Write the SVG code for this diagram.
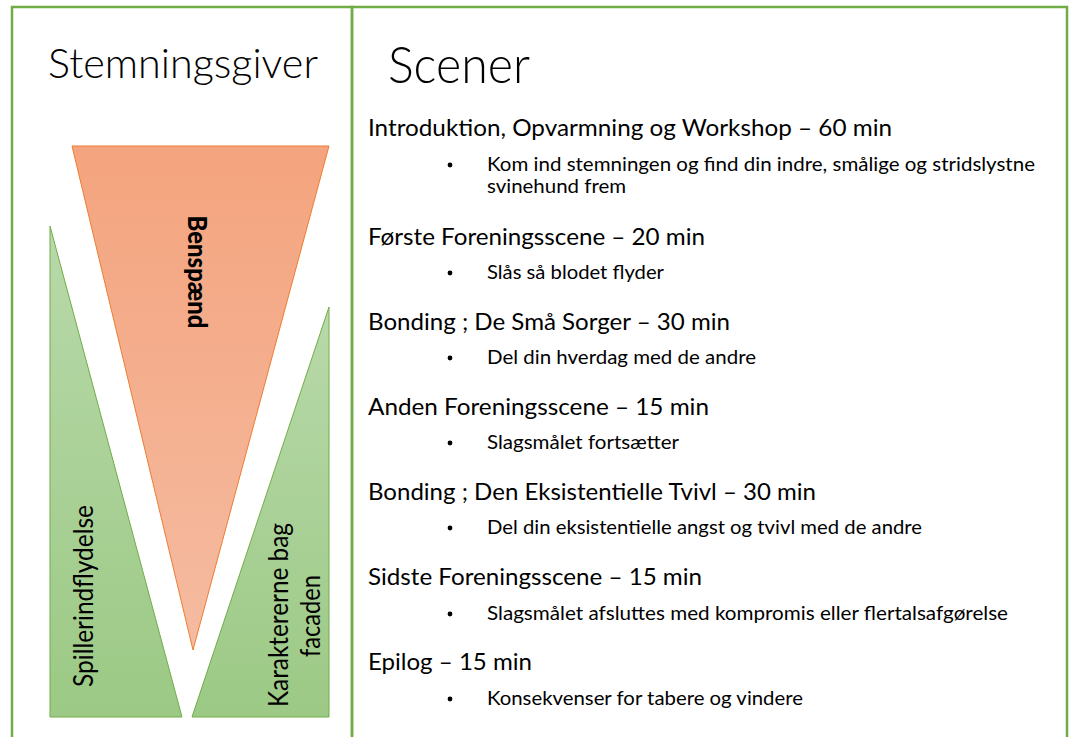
<svg xmlns="http://www.w3.org/2000/svg" width="1070" height="737" viewBox="0 0 1070 737">
  <defs>
    <linearGradient id="gOrange" x1="0" y1="0" x2="0" y2="1">
      <stop offset="0" stop-color="#F4A47E"/>
      <stop offset="1" stop-color="#F5BBA1"/>
    </linearGradient>
    <linearGradient id="gGreen" x1="0" y1="0" x2="0" y2="1">
      <stop offset="0" stop-color="#B8D9AA"/>
      <stop offset="1" stop-color="#9CC985"/>
    </linearGradient>
    <style>
      .frame { fill: none; stroke: #70AD47; stroke-width: 2.5; }
      .title { font-family: Lato, "Open Sans", "Liberation Sans", sans-serif; font-weight: 300; fill: #000; }
      .side { font-family: Lato, "Open Sans", "Liberation Sans", sans-serif; font-size: 26px; fill: #000; }
      .head { font-family: Lato, "Open Sans", "Liberation Sans", sans-serif; font-size: 24px; fill: #000; }
      .item { font-family: Lato, "Open Sans", "Liberation Sans", sans-serif; font-size: 19px; fill: #000; }
      .dot { fill: #000; }
    </style>
  </defs>
  <rect width="1070" height="737" fill="#FFFFFF"/>

  <g id="frames">
    <rect class="frame" x="12" y="7" width="340" height="745"/>
    <rect class="frame" x="352" y="7" width="715" height="745"/>
  </g>

  <g id="left-panel">
    <text class="title" x="48" y="78" font-size="41" textLength="270" lengthAdjust="spacingAndGlyphs">Stemningsgiver</text>

    <g id="spillerindflydelse">
      <polygon points="50,226 182,717 50,717" fill="url(#gGreen)" stroke="#70AD47" stroke-width="1"/>
      <text class="side" transform="translate(93,596) rotate(-90)" text-anchor="middle" textLength="182" lengthAdjust="spacingAndGlyphs">Spillerindflydelse</text>
    </g>

    <g id="karaktererne">
      <polygon points="329,307 329,717 192,717" fill="url(#gGreen)" stroke="#70AD47" stroke-width="1"/>
      <text class="side" transform="translate(288,615) rotate(-90)" text-anchor="middle" textLength="184" lengthAdjust="spacingAndGlyphs">Karaktererne bag</text>
      <text class="side" transform="translate(320,616) rotate(-90)" text-anchor="middle" textLength="82" lengthAdjust="spacingAndGlyphs">facaden</text>
    </g>

    <g id="benspaend">
      <polygon points="72,146 329,146 193,650" fill="url(#gOrange)" stroke="#ED7D31" stroke-width="1"/>
      <text class="side" font-weight="900" transform="translate(188,272) rotate(90)" text-anchor="middle" textLength="113" lengthAdjust="spacingAndGlyphs">Benspænd</text>
    </g>
  </g>

  <g id="right-panel">
    <text class="title" x="388" y="83" font-size="51" textLength="142" lengthAdjust="spacingAndGlyphs">Scener</text>

    <g id="scene1">
      <text class="head" x="368" y="136" textLength="524" lengthAdjust="spacingAndGlyphs">Introduktion, Opvarmning og Workshop – 60 min</text>
      <circle class="dot" cx="450" cy="165" r="2.4"/>
      <text class="item" x="487" y="171" textLength="548" lengthAdjust="spacingAndGlyphs">Kom ind stemningen og find din indre, smålige og stridslystne</text>
      <text class="item" x="487" y="193" textLength="139" lengthAdjust="spacingAndGlyphs">svinehund frem</text>
    </g>
    <g id="scene2">
      <text class="head" x="368" y="245" textLength="337" lengthAdjust="spacingAndGlyphs">Første Foreningsscene – 20 min</text>
      <circle class="dot" cx="450" cy="273" r="2.4"/>
      <text class="item" x="487" y="279" textLength="177" lengthAdjust="spacingAndGlyphs">Slås så blodet flyder</text>
    </g>
    <g id="scene3">
      <text class="head" x="368" y="330" textLength="362" lengthAdjust="spacingAndGlyphs">Bonding ; De Små Sorger – 30 min</text>
      <circle class="dot" cx="450" cy="358" r="2.4"/>
      <text class="item" x="487" y="364" textLength="269" lengthAdjust="spacingAndGlyphs">Del din hverdag med de andre</text>
    </g>
    <g id="scene4">
      <text class="head" x="368" y="415" textLength="341" lengthAdjust="spacingAndGlyphs">Anden Foreningsscene – 15 min</text>
      <circle class="dot" cx="450" cy="443" r="2.4"/>
      <text class="item" x="487" y="449" textLength="192" lengthAdjust="spacingAndGlyphs">Slagsmålet fortsætter</text>
    </g>
    <g id="scene5">
      <text class="head" x="368" y="500" textLength="448" lengthAdjust="spacingAndGlyphs">Bonding ; Den Eksistentielle Tvivl – 30 min</text>
      <circle class="dot" cx="450" cy="528" r="2.4"/>
      <text class="item" x="487" y="534" textLength="435" lengthAdjust="spacingAndGlyphs">Del din eksistentielle angst og tvivl med de andre</text>
    </g>
    <g id="scene6">
      <text class="head" x="368" y="585" textLength="334" lengthAdjust="spacingAndGlyphs">Sidste Foreningsscene – 15 min</text>
      <circle class="dot" cx="450" cy="614" r="2.4"/>
      <text class="item" x="487" y="620" textLength="521" lengthAdjust="spacingAndGlyphs">Slagsmålet afsluttes med kompromis eller flertalsafgørelse</text>
    </g>
    <g id="scene7">
      <text class="head" x="368" y="670" textLength="164" lengthAdjust="spacingAndGlyphs">Epilog – 15 min</text>
      <circle class="dot" cx="450" cy="699" r="2.4"/>
      <text class="item" x="487" y="705" textLength="316" lengthAdjust="spacingAndGlyphs">Konsekvenser for tabere og vindere</text>
    </g>
  </g>
</svg>
